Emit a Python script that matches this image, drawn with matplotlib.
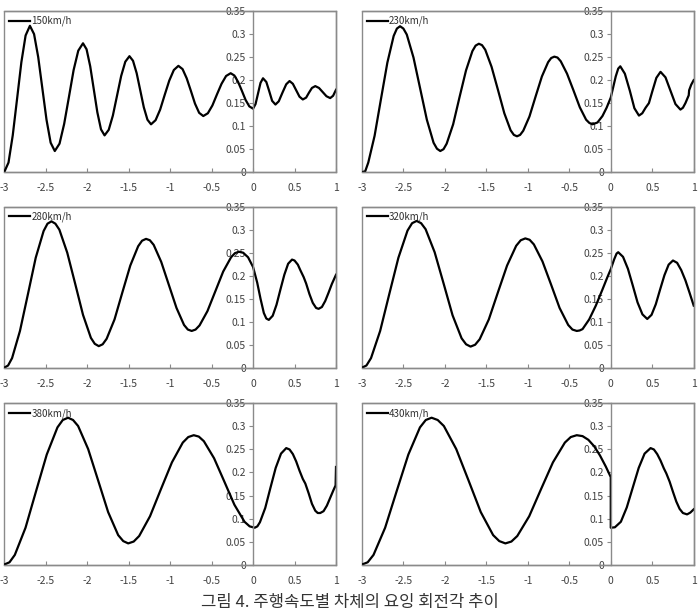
import matplotlib
matplotlib.use("Agg")
import matplotlib.pyplot as plt

plt.rcParams['font.family'] = ['Noto Sans CJK KR', 'DejaVu Sans']

# speed labels for each panel
speeds = ['150km/h', '230km/h', '280km/h', '320km/h', '380km/h', '430km/h']

# yaw angle traces (x: time, y: angle)
x150 = [-3.00, -2.948, -2.897, -2.845, -2.793, -2.742, -2.69,
        -2.64, -2.59, -2.54, -2.49, -2.44, -2.39,
        -2.333, -2.277, -2.22, -2.163, -2.107, -2.05,
        -2.007, -1.963, -1.92, -1.877, -1.833, -1.79,
        -1.74, -1.69, -1.64, -1.59, -1.54, -1.49,
        -1.447, -1.403, -1.36, -1.317, -1.273, -1.23,
        -1.175, -1.12, -1.065, -1.01, -0.955, -0.90,
        -0.85, -0.80, -0.75, -0.70, -0.65, -0.60,
        -0.545, -0.49, -0.435, -0.38, -0.325, -0.27,
        -0.225, -0.18, -0.135, -0.09, -0.045, 0.00,
        0.03, 0.06, 0.09, 0.12, 0.16, 0.195, 0.23,
        0.27, 0.31, 0.355, 0.40, 0.44, 0.48, 0.52, 0.56, 0.60, 0.64, 0.675, 0.71,
        0.75, 0.795, 0.84, 0.885, 0.93, 0.965, 1.00]
y150 = [0.000, 0.021, 0.080, 0.159, 0.239, 0.297, 0.318,
        0.300, 0.250, 0.182, 0.114, 0.064, 0.046,
        0.062, 0.105, 0.163, 0.222, 0.264, 0.280,
        0.267, 0.230, 0.180, 0.130, 0.093, 0.080,
        0.092, 0.123, 0.166, 0.209, 0.240, 0.252,
        0.242, 0.215, 0.178, 0.141, 0.114, 0.104,
        0.113, 0.136, 0.168, 0.199, 0.222, 0.231,
        0.224, 0.204, 0.177, 0.149, 0.129, 0.122,
        0.128, 0.145, 0.169, 0.192, 0.209, 0.215,
        0.210, 0.196, 0.177, 0.157, 0.143, 0.138,
        0.148, 0.171, 0.194, 0.204, 0.196, 0.176, 0.155,
        0.147, 0.154, 0.173, 0.191, 0.198, 0.192, 0.178, 0.164, 0.158, 0.162, 0.173, 0.183,
        0.187, 0.183, 0.174, 0.165, 0.161, 0.166, 0.179]

x230 = [-3.00, -2.96, -2.923, -2.847, -2.77, -2.693, -2.617, -2.578, -2.54, -2.50,
        -2.459, -2.378, -2.298, -2.217, -2.136, -2.095, -2.055, -2.016,
        -1.978, -1.90, -1.823, -1.745, -1.668, -1.629, -1.59, -1.552,
        -1.513, -1.437, -1.36, -1.283, -1.207, -1.168, -1.13, -1.093,
        -1.055, -0.98, -0.905, -0.83, -0.755, -0.718, -0.68, -0.642,
        -0.603, -0.527, -0.45, -0.373, -0.297, -0.258, -0.22,
        -0.16, -0.10, -0.05, 0.00, 0.03, 0.06, 0.09, 0.115,
        0.17, 0.23, 0.285, 0.34,
        0.38, 0.42, 0.46, 0.50, 0.55, 0.60,
        0.66, 0.72, 0.78, 0.84, 0.87, 0.90, 0.94, 0.945, 0.97, 1.00]
y230 = [0.000, 0.002, 0.021, 0.079, 0.159, 0.238, 0.296, 0.312, 0.317, 0.312,
        0.299, 0.249, 0.182, 0.114, 0.064, 0.051, 0.046, 0.050,
        0.062, 0.104, 0.163, 0.221, 0.263, 0.275, 0.279, 0.276,
        0.266, 0.229, 0.179, 0.128, 0.091, 0.081, 0.078, 0.081,
        0.090, 0.121, 0.165, 0.208, 0.239, 0.248, 0.251, 0.249,
        0.241, 0.214, 0.178, 0.141, 0.114, 0.107, 0.104,
        0.108, 0.122, 0.140, 0.162, 0.185, 0.208, 0.225, 0.230,
        0.214, 0.177, 0.139, 0.123,
        0.128, 0.140, 0.150, 0.175, 0.205, 0.218,
        0.206, 0.177, 0.148, 0.136, 0.140, 0.150, 0.167, 0.178, 0.190, 0.200]

x280 = [-3.00, -2.953, -2.905, -2.81, -2.715, -2.62, -2.525, -2.478, -2.43, -2.383,
        -2.335, -2.24, -2.145, -2.05, -1.955, -1.908, -1.86, -1.813,
        -1.765, -1.67, -1.575, -1.48, -1.385, -1.338, -1.29, -1.244,
        -1.198, -1.107, -1.015, -0.923, -0.832, -0.786, -0.74, -0.693,
        -0.645, -0.55, -0.455, -0.36, -0.265, -0.218, -0.17,
        -0.12, -0.06, 0.00, 0.05, 0.09, 0.13, 0.16, 0.19,
        0.237, 0.283, 0.33, 0.377, 0.423, 0.47,
        0.50, 0.54, 0.57, 0.61, 0.64, 0.68, 0.72, 0.76, 0.79,
        0.83, 0.87, 0.91, 0.95, 1.00]
y280 = [0.000, 0.005, 0.021, 0.080, 0.159, 0.239, 0.297, 0.313, 0.318, 0.313,
        0.300, 0.250, 0.183, 0.115, 0.065, 0.052, 0.047, 0.051,
        0.063, 0.105, 0.164, 0.222, 0.264, 0.276, 0.280, 0.277,
        0.267, 0.230, 0.180, 0.130, 0.093, 0.083, 0.080, 0.083,
        0.092, 0.123, 0.166, 0.209, 0.240, 0.249, 0.252,
        0.250, 0.240, 0.219, 0.185, 0.150, 0.119, 0.107, 0.104,
        0.113, 0.137, 0.170, 0.202, 0.226, 0.235,
        0.233, 0.224, 0.212, 0.197, 0.183, 0.160, 0.141, 0.130, 0.128,
        0.132, 0.145, 0.163, 0.182, 0.202]

x320 = [-3.00, -2.945, -2.89, -2.78, -2.67, -2.56, -2.45, -2.395, -2.34, -2.286,
        -2.232, -2.123, -2.015, -1.907, -1.798, -1.744, -1.69, -1.635,
        -1.58, -1.47, -1.36, -1.25, -1.14, -1.085, -1.03, -0.978,
        -0.927, -0.823, -0.72, -0.617, -0.513, -0.462, -0.41, -0.375,
        -0.34, -0.26, -0.18, -0.10, -0.04, 0.00, 0.04, 0.07, 0.09,
        0.148, 0.207, 0.265, 0.323, 0.382, 0.44,
        0.492, 0.543, 0.595, 0.647, 0.698, 0.75,
        0.80, 0.85, 0.90, 0.95, 1.00]
y320 = [0.000, 0.005, 0.021, 0.080, 0.160, 0.239, 0.298, 0.314, 0.319, 0.314,
        0.301, 0.251, 0.183, 0.114, 0.064, 0.051, 0.046, 0.050,
        0.062, 0.105, 0.164, 0.222, 0.265, 0.277, 0.281, 0.278,
        0.268, 0.231, 0.181, 0.130, 0.093, 0.083, 0.080, 0.081,
        0.084, 0.105, 0.135, 0.170, 0.197, 0.214, 0.235, 0.248, 0.251,
        0.241, 0.215, 0.179, 0.142, 0.116, 0.106,
        0.115, 0.138, 0.170, 0.201, 0.224, 0.233,
        0.228, 0.212, 0.190, 0.163, 0.135]

x380 = [-3.00, -2.936, -2.872, -2.743, -2.615, -2.487, -2.358, -2.294, -2.23, -2.17,
        -2.109, -1.988, -1.868, -1.747, -1.626, -1.565, -1.505, -1.439,
        -1.373, -1.242, -1.11, -0.978, -0.847, -0.781, -0.715, -0.654,
        -0.593, -0.47, -0.348, -0.225, -0.103, -0.041, 0.02, 0.052,
        0.083, 0.147, 0.21, 0.273, 0.337, 0.40,
        0.44, 0.48, 0.52, 0.56, 0.60, 0.63, 0.67, 0.71, 0.75, 0.78, 0.81,
        0.85, 0.89, 0.93, 0.97, 0.995, 1.00]
y380 = [0.000, 0.005, 0.021, 0.080, 0.160, 0.239, 0.298, 0.314, 0.319, 0.314,
        0.301, 0.251, 0.183, 0.114, 0.064, 0.051, 0.046, 0.050,
        0.062, 0.105, 0.164, 0.222, 0.265, 0.277, 0.281, 0.278,
        0.268, 0.231, 0.181, 0.130, 0.093, 0.083, 0.080, 0.083,
        0.092, 0.123, 0.167, 0.210, 0.241, 0.253,
        0.250, 0.240, 0.224, 0.204, 0.186, 0.176, 0.155, 0.132, 0.117, 0.112, 0.112,
        0.116, 0.128, 0.145, 0.162, 0.172, 0.212]

x430 = [-3.00, -2.93, -2.86, -2.72, -2.58, -2.44, -2.30, -2.23, -2.16, -2.086,
        -2.012, -1.863, -1.715, -1.567, -1.418, -1.344, -1.27, -1.198,
        -1.127, -0.983, -0.84, -0.697, -0.553, -0.482, -0.41,
        -0.375, -0.34, -0.27, -0.20, -0.13, -0.06, 0.00, 0.00, 0.05,
        0.122, 0.193, 0.265, 0.337, 0.408, 0.48,
        0.52, 0.56, 0.60, 0.64, 0.67, 0.71, 0.75, 0.79, 0.83, 0.87, 0.92, 0.96, 1.00]
y430 = [0.000, 0.005, 0.021, 0.080, 0.160, 0.239, 0.298, 0.314, 0.319, 0.314,
        0.301, 0.251, 0.183, 0.114, 0.064, 0.051, 0.046, 0.050,
        0.062, 0.105, 0.164, 0.222, 0.265, 0.277, 0.281,
        0.280, 0.279, 0.271, 0.257, 0.237, 0.213, 0.190, 0.080, 0.081,
        0.093, 0.124, 0.167, 0.210, 0.241, 0.253,
        0.250, 0.240, 0.226, 0.209, 0.198, 0.180, 0.158, 0.137, 0.121, 0.112, 0.109, 0.113, 0.120]

xs = [x150, x230, x280, x320, x380, x430]
ys = [y150, y230, y280, y320, y380, y430]

x_ticks = [-3, -2.5, -2, -1.5, -1, -0.5, 0, 0.5, 1]
x_labels = ['-3', '-2.5', '-2', '-1.5', '-1', '-0.5', '0', '0.5', '1']
y_ticks = [0, 0.05, 0.1, 0.15, 0.2, 0.25, 0.3, 0.35]
y_labels = ['0', '0.05', '0.1', '0.15', '0.2', '0.25', '0.3', '0.35']

caption = '그림 4. 주행속도별 차체의 요잉 회전각 추이'

gray = '#8a8a8a'
txt = '#404040'

fig = plt.figure(figsize=(7.0, 6.15), dpi=100)

# axes boxes in figure fractions [left, bottom, width, height]
lefts = [0.006, 0.517]
bottoms = [0.720, 0.402, 0.082]
w = 0.474
h = 0.262

for i in range(6):
    row, col = divmod(i, 2)
    ax = fig.add_axes([lefts[col], bottoms[row], w, h])
    ax.plot(xs[i], ys[i], color='black', lw=1.6, label=speeds[i],
            solid_joinstyle='round')
    ax.set_xlim(-3, 1)
    ax.set_ylim(0, 0.35)

    # box around the plot area, y axis crossing at x = 0
    for s in ['top', 'right', 'bottom']:
        ax.spines[s].set_color(gray)
        ax.spines[s].set_linewidth(1.0)
    ax.spines['left'].set_position(('data', 0))
    ax.spines['left'].set_color(gray)
    ax.spines['left'].set_linewidth(1.0)
    ax.patch.set_edgecolor(gray)
    ax.patch.set_linewidth(1.0)

    ax.set_xticks(x_ticks)
    ax.set_xticklabels(x_labels)
    ax.set_yticks(y_ticks)
    ax.set_yticklabels(y_labels)
    ax.tick_params(axis='x', direction='in', length=3, width=0.8, color=gray,
                   pad=8, labelsize=7.5, labelcolor=txt)
    ax.tick_params(axis='y', direction='out', length=3, width=0.8, color=gray,
                   pad=2, labelsize=7.5, labelcolor=txt)

    leg = ax.legend(loc='upper left', frameon=False, fontsize=7, handlelength=2.2,
                    handletextpad=0.1, borderaxespad=0.2, borderpad=0.3)
    for t in leg.get_texts():
        t.set_color('#303030')

fig.text(0.5, 0.006, caption, ha='center', va='bottom', fontsize=12, color='#333333')

fig.savefig('out.png', dpi=100)
